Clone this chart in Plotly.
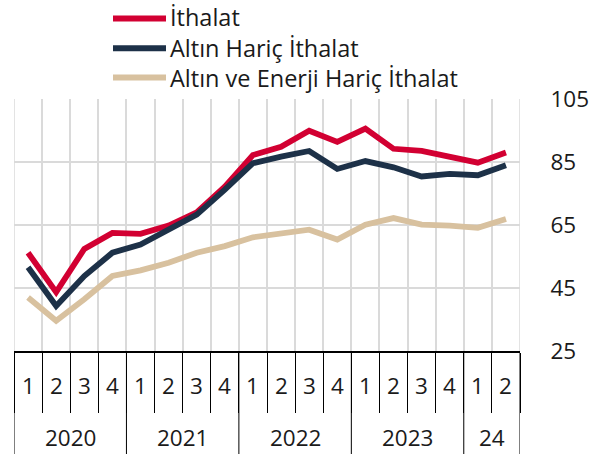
import plotly.graph_objects as go

# Quarterly index series, 2020Q1 - 2024Q2
quarters = ["1", "2", "3", "4", "1", "2", "3", "4", "1", "2", "3", "4",
            "1", "2", "3", "4", "1", "2"]
years = ["2020", "2021", "2022", "2023", "24"]
year_spans = [4, 4, 4, 4, 2]

ithalat = [56.2, 43.7, 57.4, 62.5, 62.2, 64.8, 69.0, 77.2, 87.2, 89.8,
           94.9, 91.4, 95.6, 89.2, 88.5, 86.7, 84.8, 88.0]
altin_haric = [51.6, 39.3, 48.8, 56.2, 58.8, 63.5, 68.3, 76.2, 84.6, 86.7,
               88.5, 82.8, 85.3, 83.3, 80.4, 81.2, 80.8, 84.0]
altin_enerji_haric = [42.0, 34.6, 41.4, 48.8, 50.6, 53.0, 56.2, 58.3, 61.1, 62.5,
                      63.5, 60.4, 65.1, 67.2, 65.1, 64.8, 64.1, 66.9]

series = [
    ("İthalat", ithalat, "#D20032"),
    ("Altın Hariç İthalat", altin_haric, "#1D3148"),
    ("Altın ve Enerji Hariç İthalat", altin_enerji_haric, "#D8C19F"),
]

x = list(range(len(quarters)))
FONT = "Open Sans"
TEXT = "#1a1a1a"
GRID = "#DADADA"
W, H = 601, 454
ML, MR, MT, MB = 14, 81, 99, 103
PW, PH = W - ML - MR, H - MT - MB


def px_to_paper(px, py):
    return (px - ML) / PW, (H - MB - py) / PH


fig = go.Figure()
for name, vals, color in series:
    fig.add_trace(go.Scatter(
        x=x, y=vals, mode="lines", name=name, showlegend=False,
        line=dict(color=color, width=5.8),
    ))

boundaries = [i - 0.5 for i in range(len(quarters) + 1)]

fig.update_xaxes(
    range=[-0.5, len(quarters) - 0.5],
    tickvals=boundaries, showticklabels=False,
    ticks="outside", ticklen=60, tickcolor="black", tickwidth=1,
    showgrid=True, gridcolor=GRID, gridwidth=1.5,
    showline=True, linecolor="black", linewidth=1.5,
    zeroline=False, fixedrange=True,
)
fig.update_yaxes(
    range=[25, 105], tickvals=[25, 45, 65, 85, 105], side="right",
    showgrid=True, gridcolor=GRID, gridwidth=1.5,
    ticks="outside", ticklen=25, tickcolor="rgba(0,0,0,0)",
    tickfont=dict(family=FONT, size=22.5, color=TEXT),
    zeroline=False, fixedrange=True,
)

annotations = []
shapes = []

# Quarter labels under each category
for i, q in enumerate(quarters):
    annotations.append(dict(
        x=i, y=-0.135, xref="x", yref="paper", text=q, showarrow=False,
        font=dict(family=FONT, size=22.5, color=TEXT),
        xanchor="center", yanchor="middle",
    ))

# Year labels and year dividers
start = 0
edges = [-0.5]
for yr, span in zip(years, year_spans):
    center = start + (span - 1) / 2
    annotations.append(dict(
        x=center, y=-0.345, xref="x", yref="paper", text=yr, showarrow=False,
        font=dict(family=FONT, size=22.5, color=TEXT),
        xanchor="center", yanchor="middle",
    ))
    start += span
    edges.append(start - 0.5)
for e in edges:
    shapes.append(dict(
        type="line", xref="x", yref="paper", x0=e, x1=e, y0=0, y1=-0.42,
        line=dict(color="black", width=1),
    ))

# Plot frame edges
for e in (-0.5, len(quarters) - 0.5):
    shapes.append(dict(type="line", xref="x", yref="paper", x0=e, x1=e,
                       y0=0, y1=1, line=dict(color=GRID, width=1.5), layer="below"))

# Legend: coloured line samples next to a stacked block of labels
legend_rows = [18.5, 48.3, 77.5]
for (name, _, color), ry in zip(series, legend_rows):
    x0, yy = px_to_paper(113, ry)
    x1, _ = px_to_paper(166, ry)
    shapes.append(dict(type="line", xref="paper", yref="paper",
                       x0=x0, x1=x1, y0=yy, y1=yy,
                       line=dict(color=color, width=6)))
tx, ty = px_to_paper(168, legend_rows[1] - 1)
annotations.append(dict(
    x=tx, y=ty, xref="paper", yref="paper",
    text="<br>".join(name for name, _, _ in series), showarrow=False,
    font=dict(family=FONT, size=23.5, color=TEXT),
    xanchor="left", yanchor="middle", align="left",
))

fig.update_layout(
    width=W, height=H,
    margin=dict(l=ML, r=MR, t=MT, b=MB),
    paper_bgcolor="white", plot_bgcolor="white",
    font=dict(family=FONT, size=22.5, color=TEXT),
    showlegend=False,
    annotations=annotations, shapes=shapes,
)

fig.write_html("out.html")
